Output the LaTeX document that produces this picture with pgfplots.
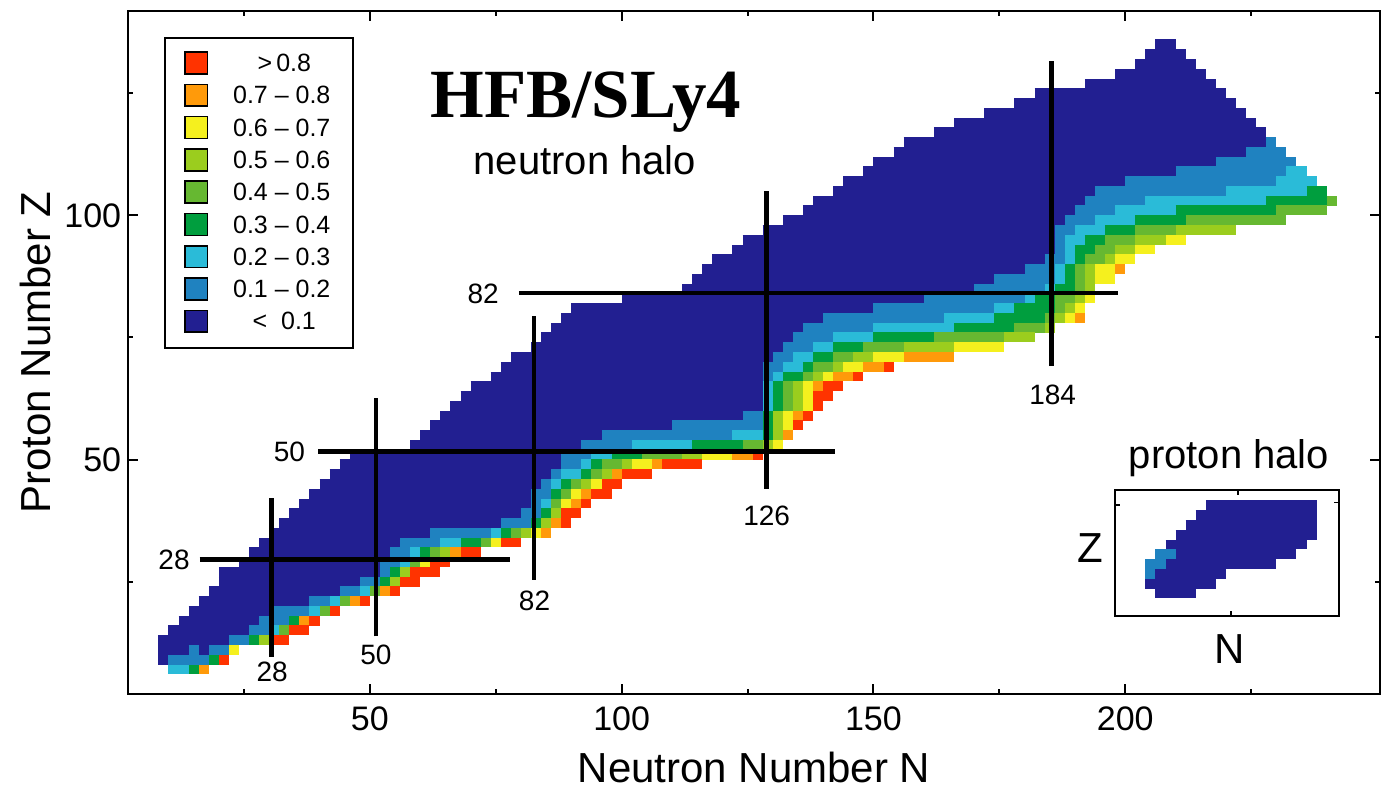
\documentclass[border=0pt]{standalone}
\usepackage{fontspec}
\setmainfont{Liberation Sans}
\newfontfamily\titlefont{Liberation Serif}
\usepackage{pgfplots}
\pgfplotsset{compat=1.18}
\usepackage{pgfplotstable}

\definecolor{cnavy}{HTML}{221F91}
\definecolor{cblue}{HTML}{1F82C0}
\definecolor{ccyan}{HTML}{2ABBD8}
\definecolor{cgreen}{HTML}{009E3E}
\definecolor{cgreenb}{HTML}{66B831}
\definecolor{clime}{HTML}{9BCD1E}
\definecolor{cyellow}{HTML}{F5F01E}
\definecolor{corange}{HTML}{FF9A0A}
\definecolor{cred}{HTML}{FF3300}

% each row: N = left edge, Z = row centre, W = run length (cells are 2 x 2)
\pgfplotstableread{
N Z W
10 7 8
8 9 14
8 11 16
8 13 26
10 15 28
12 17 28
14 19 30
16 21 34
18 23 38
20 25 40
20 27 44
24 29 42
26 31 46
28 33 52
30 35 56
32 37 58
34 39 58
36 41 58
38 43 60
40 45 60
42 47 64
44 49 72
46 51 82
58 53 74
60 55 74
62 57 74
64 59 74
66 61 74
68 63 74
70 65 74
74 67 74
76 69 78
78 71 88
82 73 94
84 75 98
86 77 100
88 79 104
90 81 102
100 83 94
112 85 82
114 87 84
116 89 84
118 91 84
122 93 84
124 95 88
128 97 94
132 99 100
136 101 104
138 103 104
142 105 98
144 107 94
148 109 88
150 111 84
154 113 78
156 115 74
162 117 66
166 119 60
172 121 52
178 123 44
182 125 38
192 127 26
198 129 18
202 131 12
204 133 8
206 135 4
}\tnavy

\pgfplotstableread{
N Z W
10 9 8
14 11 2
18 11 4
22 13 4
26 15 4
28 17 6
30 19 8
38 21 4
44 23 4
48 25 4
52 27 2
52 29 4
54 31 4
56 33 8
62 35 12
76 37 6
80 39 4
82 41 2
82 43 4
84 45 2
86 47 2
88 49 4
88 51 6
92 53 10
96 55 26
110 57 18
124 59 4
128 67 2
128 69 4
130 71 4
132 73 6
134 75 8
136 77 14
140 79 24
150 81 24
160 83 20
170 85 14
174 87 12
180 89 6
184 91 4
186 93 2
186 95 2
186 97 4
188 99 6
190 101 8
192 103 12
194 105 26
200 107 30
210 109 22
218 111 16
224 113 8
228 115 2
}\tblue

\pgfplotstableread{
N Z W
10 7 4
30 15 2
38 19 2
42 21 2
48 23 2
56 29 2
58 31 2
64 33 4
74 35 2
84 41 2
86 45 2
88 47 4
92 49 2
94 51 4
102 53 12
122 55 6
128 61 2
128 63 2
128 65 2
130 67 2
132 69 4
134 71 4
138 73 4
142 75 8
150 77 16
164 79 10
174 81 4
180 83 2
184 85 2
186 87 2
186 89 2
188 91 2
188 93 2
188 95 4
190 97 6
194 99 8
198 101 12
204 103 24
220 105 16
230 107 8
232 109 4
}\tcyan

\pgfplotstableread{
N Z W
14 7 2
18 9 2
26 13 2
34 17 2
52 25 2
54 27 2
60 31 2
68 33 4
76 35 2
82 37 2
84 39 2
86 43 2
88 45 2
92 47 2
94 49 2
98 51 6
114 53 10
128 55 2
128 57 2
128 59 2
130 61 2
130 63 2
130 65 2
132 67 4
136 69 2
138 71 4
142 73 6
150 75 12
166 77 12
174 79 10
178 81 8
182 83 4
186 85 4
188 87 2
188 89 2
190 91 2
190 93 4
192 95 4
196 97 6
202 99 10
210 101 20
228 103 12
236 105 4
}\tgreen

\pgfplotstableread{
N Z W
32 15 2
40 19 2
44 21 2
50 23 2
58 29 2
62 31 2
72 33 2
78 35 2
86 41 2
88 43 2
90 45 2
94 47 2
96 49 4
104 51 8
124 53 4
132 61 2
132 63 2
132 65 2
136 67 2
138 69 4
142 71 4
148 73 8
162 75 14
178 77 6
184 79 2
186 81 2
186 83 4
190 85 2
190 87 2
190 89 2
192 91 4
194 93 4
196 95 6
202 97 8
212 99 20
230 101 10
240 103 2
}\tgreenb

\pgfplotstableread{
N Z W
28 13 2
54 25 2
56 27 2
64 31 2
80 35 2
84 37 2
86 39 2
92 45 2
96 47 2
100 49 2
112 51 4
128 53 2
130 55 2
130 57 2
130 59 2
134 61 2
134 63 2
134 65 2
138 67 2
142 69 2
146 71 4
156 73 10
176 75 6
184 77 2
186 79 2
188 81 2
190 83 2
192 85 2
192 87 2
192 89 2
196 91 2
198 93 4
202 95 6
210 97 12
}\tlime

\pgfplotstableread{
N Z W
22 11 2
60 29 2
74 33 2
82 35 2
88 41 2
90 43 2
94 45 2
102 49 4
116 51 6
130 53 2
132 57 2
132 59 2
136 61 2
136 63 2
136 65 2
140 67 2
144 69 4
150 71 6
166 73 10
188 79 2
190 81 2
192 83 2
194 87 4
194 89 4
198 91 4
202 93 4
208 95 4
}\tyellow

\pgfplotstableread{
N Z W
16 7 2
36 17 2
46 21 2
52 23 2
66 31 2
84 35 2
86 37 2
90 41 2
92 43 2
98 47 2
106 49 2
122 51 4
132 55 2
134 59 2
138 65 2
142 67 4
148 69 4
156 71 10
190 79 2
198 89 2
}\torange

\pgfplotstableread{
N Z W
20 9 2
30 13 4
34 15 4
38 17 2
42 19 2
48 21 2
54 23 2
56 25 4
58 27 6
62 29 4
68 31 4
76 33 4
88 37 2
88 39 4
92 41 2
94 43 4
96 45 4
100 47 6
108 49 8
126 51 2
134 57 2
136 59 2
138 61 2
138 63 4
140 65 4
146 67 2
152 69 2
}\tred

% inset (proton halo)
\pgfplotstableread{
N Z W
206 22.6 8
204 24.6 14
204 26.6 16
204 28.6 26
206 30.6 28
208 32.6 28
210 34.6 28
212 36.6 26
214 38.6 24
216 40.6 22
}\tinsetnavy

\pgfplotstableread{
N Z W
204 26.6 2
204 28.6 4
206 30.6 4
}\tinsetblue

\pgfplotsset{
  cellrow/.style={only marks, mark=none, mark size=0pt,
    mark options={draw=none, fill=none, opacity=0}, forget plot,
    error bars/.cd, x dir=plus, x explicit, error mark=none,
    error bar style={line width=4.95pt, color=#1, line cap=butt, opacity=1}},
  magic/.style={black, line width=2.3pt, no marks, forget plot},
}
\tikzset{
  legsq/.style={draw=black, line width=0.8pt, fill=#1, minimum width=11.2pt, minimum height=10.9pt, inner sep=0pt},
  legtx/.style={font=\fontsize{12.5}{14}\selectfont},
}

\begin{document}
\begin{tikzpicture}
\begin{axis}[
  name=main,
  x=2.518pt, y=2.442pt,
  xmin=2, xmax=250.6, ymin=2, ymax=141.8,
  axis line style={line width=1.1pt},
  xtick={50,100,150,200}, ytick={50,100},
  minor xtick={25,75,125,175,225}, minor ytick={25,75,125},
  tick align=inside,
  major tick length=5pt, minor tick length=2.5pt,
  every tick/.style={black, line width=1pt},
  ticklabel style={font=\fontsize{17}{20}\selectfont},
  /pgf/number format/assume math mode=true,
  xticklabel style={yshift=-3pt},
  xlabel={Neutron Number N}, ylabel={Proton Number Z},
  label style={font=\fontsize{21}{25}\selectfont},
  xlabel style={at={(axis description cs:0.5,-0.108)}, anchor=center},
  ylabel style={at={(axis description cs:-0.0744,0.5)}, anchor=center},
  clip=false,
]
\addplot[cellrow=cnavy]   table[x=N,y=Z,x error=W] {\tnavy};
\addplot[cellrow=cblue]   table[x=N,y=Z,x error=W] {\tblue};
\addplot[cellrow=ccyan]   table[x=N,y=Z,x error=W] {\tcyan};
\addplot[cellrow=cgreen]  table[x=N,y=Z,x error=W] {\tgreen};
\addplot[cellrow=cgreenb] table[x=N,y=Z,x error=W] {\tgreenb};
\addplot[cellrow=clime]   table[x=N,y=Z,x error=W] {\tlime};
\addplot[cellrow=cyellow] table[x=N,y=Z,x error=W] {\tyellow};
\addplot[cellrow=corange] table[x=N,y=Z,x error=W] {\torange};
\addplot[cellrow=cred]    table[x=N,y=Z,x error=W] {\tred};
\addplot[cellrow=cnavy]   table[x=N,y=Z,x error=W] {\tinsetnavy};
\addplot[cellrow=cblue]   table[x=N,y=Z,x error=W] {\tinsetblue};

% magic numbers
\addplot[magic] coordinates {(16.2,29.5) (77.8,29.5)};
\addplot[magic] coordinates {(30.5,9.6) (30.5,42.2)};
\addplot[magic] coordinates {(39.7,51.7) (142.3,51.7)};
\addplot[magic] coordinates {(51.2,13.8) (51.2,62.6)};
\addplot[magic] coordinates {(79.6,84.1) (198.5,84.1)};
\addplot[magic] coordinates {(82.6,25.4) (82.6,79.3)};
\addplot[magic] coordinates {(128.8,44.0) (128.8,105.0)};
\addplot[magic] coordinates {(185.4,69.1) (185.4,131.6)};

\node[anchor=east, font=\fontsize{14}{16}\selectfont] at (axis cs:15.6,29.5) {28};
\node[font=\fontsize{14}{16}\selectfont] at (axis cs:30.6,6.55) {28};
\node[anchor=east, font=\fontsize{14}{16}\selectfont] at (axis cs:38.5,51.6) {50};
\node[font=\fontsize{14}{16}\selectfont] at (axis cs:51.2,10.0) {50};
\node[anchor=east, font=\fontsize{14}{16}\selectfont] at (axis cs:77.0,84.0) {82};
\node[font=\fontsize{14}{16}\selectfont] at (axis cs:82.7,21.1) {82};
\node[font=\fontsize{14}{16}\selectfont] at (axis cs:128.8,38.5) {126};
\node[font=\fontsize{14}{16}\selectfont] at (axis cs:185.6,63.3) {184};

% titles
\node[anchor=base, font=\titlefont\bfseries\fontsize{34.5}{40}\selectfont] at (axis cs:92.9,120.0) {HFB/SLy4};
\node[anchor=base, font=\fontsize{20}{24}\selectfont] at (axis cs:92.7,108.3) {neutron halo};

% legend
\draw[line width=1pt] (axis cs:9.3,72.9) rectangle (axis cs:46.7,136.3);
\node[legsq=cred]    at (axis cs:15.5,131.2) {};
\node[legsq=corange] at (axis cs:15.5,124.59) {};
\node[legsq=cyellow] at (axis cs:15.5,117.97) {};
\node[legsq=clime]   at (axis cs:15.5,111.36) {};
\node[legsq=cgreenb] at (axis cs:15.5,104.75) {};
\node[legsq=cgreen]  at (axis cs:15.5,98.14) {};
\node[legsq=ccyan]   at (axis cs:15.5,91.52) {};
\node[legsq=cblue]   at (axis cs:15.5,84.91) {};
\node[legsq=cnavy]   at (axis cs:15.5,78.30) {};
\node[legtx] at (axis cs:33.0,131.2) {>\,0.8};
\node[legtx] at (axis cs:32.5,124.59) {0.7 -- 0.8};
\node[legtx] at (axis cs:32.5,117.97) {0.6 -- 0.7};
\node[legtx] at (axis cs:32.5,111.36) {0.5 -- 0.6};
\node[legtx] at (axis cs:32.5,104.75) {0.4 -- 0.5};
\node[legtx] at (axis cs:32.5,98.14) {0.3 -- 0.4};
\node[legtx] at (axis cs:32.5,91.52) {0.2 -- 0.3};
\node[legtx] at (axis cs:32.5,84.91) {0.1 -- 0.2};
\node[legtx] at (axis cs:33.0,78.30) {<\ \ 0.1};

% inset frame
\draw[line width=0.9pt] (axis cs:197.9,17.9) rectangle (axis cs:242.5,43.8);
\draw[line width=0.8pt] (axis cs:222.4,43.8) -- ++(0pt,-2.5pt);
\draw[line width=0.8pt] (axis cs:221.0,17.9) -- ++(0pt,2.5pt);
\draw[line width=0.8pt] (axis cs:197.9,40.7) -- ++(2.5pt,0pt);
\draw[line width=0.8pt] (axis cs:242.5,41.2) -- ++(-2.5pt,0pt);
\node[anchor=base, font=\fontsize{20}{24}\selectfont] at (axis cs:220.6,48.1) {proton halo};
\node[font=\fontsize{21}{25}\selectfont] at (axis cs:193.0,31.9) {Z};
\node[font=\fontsize{21}{25}\selectfont] at (axis cs:220.8,11.1) {N};
\end{axis}
\path (main.south west) ++(-64.1pt,-50.4pt) coordinate (bl);
\path (main.north east) ++(9pt,5.6pt) coordinate (tr);
\pgfresetboundingbox
\path[use as bounding box] (bl) rectangle (tr);
\end{tikzpicture}
\end{document}
